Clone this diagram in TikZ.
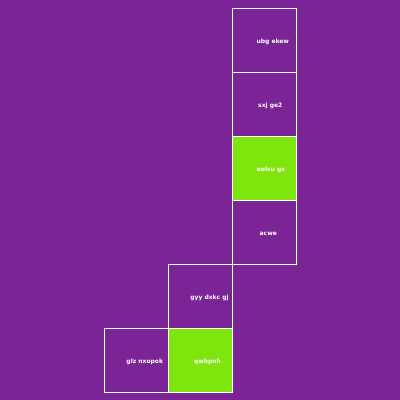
\documentclass[tikz,border=0pt]{standalone}
\usepackage{fontspec}
\setmainfont{DejaVu Sans}
\definecolor{bgpurple}{RGB}{123,36,150}
\definecolor{cellgreen}{RGB}{127,229,13}
\tikzset{
  cell/.style={draw=white, line width=0.9pt, minimum width=64pt, minimum height=64pt, inner sep=0pt, anchor=north west},
  hot/.style={cell, fill=cellgreen},
  tag/.style={text=white, inner sep=0pt, font=\bfseries\fontsize{6}{7}\selectfont}
}
\begin{document}
\begin{tikzpicture}[x=1pt,y=-1pt]
\fill[bgpurple] (0,0) rectangle (400,400);
\useasboundingbox (0,0) rectangle (400,400);
\node[cell] (a) at (232,8) {};
\node[cell] (b) at (232,72) {};
\node[hot]  (c) at (232,136) {};
\node[cell] (d) at (232,200) {};
\node[cell] (e) at (168,264) {};
\node[cell] (f) at (104,328) {};
\node[hot]  (g) at (168,328) {};
\node[tag] (ta) at (272.8,42.2) {ubg ekew};
\node[tag] (tb) at (270.3,106) {sxj ge2};
\node[tag] (tc) at (271,170) {eolsu gx};
\node[tag] (td) at (268.3,234) {acwe};
\node[tag] (te) at (209.5,298) {gyy dxkc gj};
\node[tag] (tf) at (144.8,362) {glz nxopok};
\node[tag] (tg) at (207.5,362) {qwhpnh};
\end{tikzpicture}
\end{document}
